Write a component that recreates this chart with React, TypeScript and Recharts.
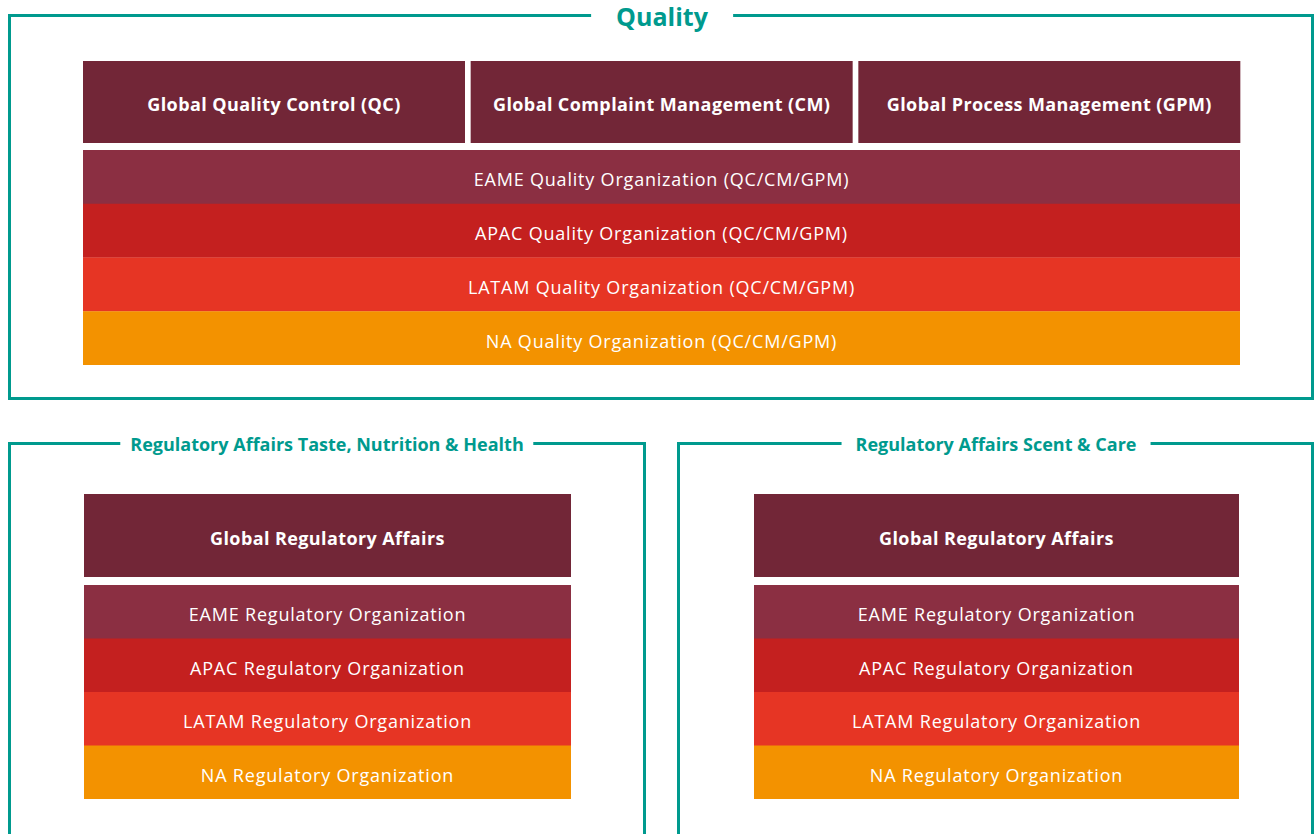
import { BarChart, Bar, XAxis, YAxis, Cell, LabelList } from 'recharts'

// org units, each box has equal weight
const qualityGlobal = [
  'Global Quality Control (QC)',
  'Global Complaint Management (CM)',
  'Global Process Management (GPM)',
]
const regions = ['EAME', 'APAC', 'LATAM', 'NA']
const qualityRegional = regions.map((r) => `${r} Quality Organization (QC/CM/GPM)`)
const regGlobal = ['Global Regulatory Affairs']
const regRegional = regions.map((r) => `${r} Regulatory Organization`)
const weight = [1, 1, 1, 1]

const TEAL = '#009a8e'
const DARK = '#722637'
const regionColors = ['#8b2f42', '#c4201f', '#e63524', '#f39200']
const FONT = '"Open Sans", "Noto Sans", sans-serif'

function toRows(names: string[]) {
  return names.map((name, i) => ({ name, value: weight[i] ?? 1 }))
}

function GlobalBoxes({ names, width, height }: { names: string[]; width: number; height: number }) {
  return (
    <BarChart width={width} height={height} data={toRows(names)} margin={{ top: 0, right: 0, bottom: 0, left: 0 }} barCategoryGap={names.length > 1 ? 3 : 0}>
      <XAxis dataKey="name" hide />
      <YAxis type="number" domain={[0, 1]} hide />
      <Bar dataKey="value" fill={DARK} isAnimationActive={false}>
        <LabelList dataKey="name" position="center" fill="#fff" dy={3}
          style={{ fontSize: 18, fontWeight: 700, fontFamily: FONT, letterSpacing: 0.4 }} />
      </Bar>
    </BarChart>
  )
}

function RegionRows({ names, width, height }: { names: string[]; width: number; height: number }) {
  return (
    <BarChart layout="vertical" width={width} height={height} data={toRows(names)} margin={{ top: 0, right: 0, bottom: 0, left: 0 }} barCategoryGap={0}>
      <XAxis type="number" domain={[0, 1]} hide />
      <YAxis type="category" dataKey="name" hide />
      <Bar dataKey="value" isAnimationActive={false}>
        {names.map((n, i) => <Cell key={n} fill={regionColors[i]} />)}
        <LabelList dataKey="name" position="center" fill="#fff" dy={3}
          style={{ fontSize: 18, fontWeight: 400, fontFamily: FONT, letterSpacing: 0.8 }} />
      </Bar>
    </BarChart>
  )
}

function Frame({ left, top, width, height, title, titleSize, centerX, pad }: {
  left: number; top: number; width: number; height: number; title: string; titleSize: number; centerX: number; pad: number
}) {
  return (
    <>
      <div style={{ position: 'absolute', left, top, width, height, border: `3px solid ${TEAL}`, boxSizing: 'border-box' }} />
      <div style={{
        position: 'absolute', left: centerX, top: top + 1.5, transform: 'translate(-50%, -50%)',
        background: '#fff', padding: `0 ${pad}px`, color: TEAL, fontWeight: 700, fontSize: titleSize,
        whiteSpace: 'nowrap', lineHeight: 1.15,
      }}>{title}</div>
    </>
  )
}

function Placed({ left, top, children }: { left: number; top: number; children: React.ReactNode }) {
  return <div style={{ position: 'absolute', left, top }}>{children}</div>
}

export default function App() {
  return (
    <div style={{ position: 'absolute', left: 0, top: 0, width: 1314, height: 834, overflow: 'hidden', background: '#fff', fontFamily: FONT }}>
      <Frame left={8} top={14} width={1306} height={386} title="Quality" titleSize={25} centerX={662} pad={25} />
      <Placed left={80} top={61}><GlobalBoxes names={qualityGlobal} width={1163} height={82} /></Placed>
      <Placed left={83} top={150}><RegionRows names={qualityRegional} width={1157} height={215} /></Placed>

      <Frame left={8} top={442} width={638} height={500} title="Regulatory Affairs Taste, Nutrition & Health" titleSize={18} centerX={327} pad={10} />
      <Placed left={84} top={494}><GlobalBoxes names={regGlobal} width={487} height={83} /></Placed>
      <Placed left={84} top={585}><RegionRows names={regRegional} width={487} height={214} /></Placed>

      <Frame left={677} top={442} width={637} height={500} title="Regulatory Affairs Scent & Care" titleSize={18} centerX={996} pad={14} />
      <Placed left={754} top={494}><GlobalBoxes names={regGlobal} width={485} height={83} /></Placed>
      <Placed left={754} top={585}><RegionRows names={regRegional} width={485} height={214} /></Placed>
    </div>
  )
}
